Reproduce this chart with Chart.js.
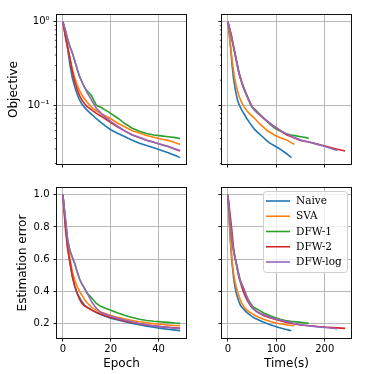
<!DOCTYPE html>
<html>
<head>
<meta charset="utf-8">
<script src="https://cdn.jsdelivr.net/npm/chart.js@4.4.1/dist/chart.umd.min.js"></script>
<style>
  html, body { margin: 0; padding: 0; background: #fff; }
  #fig { position: relative; width: 374px; height: 374px; }
  #fig canvas { position: absolute; }
</style>
</head>
<body>
<div id="fig">
  <canvas id="objEpoch" width="190" height="176" style="left:0;top:0;width:190px;height:176px"></canvas>
  <canvas id="objTime" width="184" height="176" style="left:190px;top:0;width:184px;height:176px"></canvas>
  <canvas id="errEpoch" width="190" height="198" style="left:0;top:176px;width:190px;height:198px"></canvas>
  <canvas id="errTime" width="184" height="198" style="left:190px;top:176px;width:184px;height:198px"></canvas>
</div>
<script>
// methods
const labels = ["Naive", "SVA", "DFW-1", "DFW-2", "DFW-log"];
const colors = ["#1f77b4", "#ff7f0e", "#2ca02c", "#d62728", "#9467bd"];

const epochs = [0, 1, 2, 3, 4, 5, 6, 7, 8, 9, 10, 12, 14, 16, 18, 20, 23, 26, 29, 32, 35, 38, 41, 44, 47, 49];

// objective per epoch
const naiveObj = [1.0, 0.70, 0.47, 0.30, 0.21, 0.165, 0.135, 0.115, 0.103, 0.095, 0.088, 0.078, 0.069, 0.062, 0.056, 0.051, 0.046, 0.042, 0.038, 0.035, 0.033, 0.031, 0.029, 0.027, 0.025, 0.0236];
const svaObj = [1.0, 0.72, 0.50, 0.36, 0.27, 0.21, 0.175, 0.15, 0.132, 0.12, 0.11, 0.095, 0.086, 0.079, 0.074, 0.069, 0.061, 0.055, 0.0495, 0.0465, 0.0435, 0.0415, 0.0395, 0.038, 0.0355, 0.034];
const dfw1Obj = [1.0, 0.80, 0.62, 0.50, 0.42, 0.34, 0.27, 0.22, 0.19, 0.165, 0.15, 0.13, 0.10, 0.094, 0.087, 0.080, 0.070, 0.060, 0.053, 0.049, 0.046, 0.044, 0.043, 0.042, 0.041, 0.040];
const dfw2Obj = [1.0, 0.68, 0.50, 0.36, 0.25, 0.19, 0.155, 0.13, 0.115, 0.105, 0.097, 0.088, 0.080, 0.074, 0.068, 0.062, 0.055, 0.049, 0.044, 0.041, 0.038, 0.036, 0.034, 0.032, 0.0297, 0.0284];
const dfwLogObj = [1.0, 0.80, 0.62, 0.50, 0.42, 0.34, 0.27, 0.22, 0.19, 0.165, 0.145, 0.115, 0.092, 0.080, 0.071, 0.064, 0.056, 0.049, 0.044, 0.041, 0.038, 0.036, 0.034, 0.032, 0.030, 0.0288];

// estimation error per epoch
const naiveErr = [1.0, 0.83, 0.68, 0.57, 0.49, 0.43, 0.39, 0.36, 0.335, 0.315, 0.303, 0.285, 0.268, 0.255, 0.243, 0.233, 0.222, 0.211, 0.201, 0.192, 0.184, 0.177, 0.170, 0.164, 0.159, 0.155];
const svaErr = [1.0, 0.84, 0.70, 0.60, 0.52, 0.47, 0.43, 0.40, 0.375, 0.35, 0.33, 0.30, 0.283, 0.27, 0.26, 0.25, 0.238, 0.228, 0.219, 0.211, 0.205, 0.199, 0.195, 0.191, 0.188, 0.186];
const dfw1Err = [1.0, 0.86, 0.72, 0.65, 0.61, 0.57, 0.52, 0.475, 0.445, 0.42, 0.39, 0.36, 0.325, 0.305, 0.293, 0.283, 0.265, 0.25, 0.237, 0.226, 0.219, 0.214, 0.21, 0.207, 0.203, 0.201];
const dfw2Err = [1.0, 0.80, 0.66, 0.58, 0.49, 0.43, 0.385, 0.35, 0.325, 0.31, 0.30, 0.283, 0.27, 0.258, 0.247, 0.238, 0.226, 0.215, 0.206, 0.198, 0.191, 0.186, 0.181, 0.177, 0.173, 0.170];
const dfwLogErr = [1.0, 0.86, 0.72, 0.65, 0.61, 0.57, 0.52, 0.475, 0.445, 0.42, 0.395, 0.335, 0.295, 0.268, 0.256, 0.245, 0.232, 0.22, 0.21, 0.2, 0.192, 0.185, 0.179, 0.175, 0.171, 0.168];

// wall-clock time (s) at each epoch
const naiveTime = [0, 3.0, 5.9, 8.8, 11.6, 14.5, 17.3, 20.1, 22.9, 25.7, 28.4, 33.9, 39.4, 44.8, 50.2, 55.6, 63.6, 71.6, 79.5, 87.4, 95.3, 103.1, 110.9, 118.6, 126.3, 131];
const svaTime = [0, 2.9, 5.7, 8.5, 11.3, 14.1, 16.9, 19.7, 22.5, 25.3, 28.0, 33.6, 39.2, 44.8, 50.4, 56.0, 64.4, 72.8, 81.1, 89.5, 97.9, 106.3, 114.7, 123.1, 131.5, 137];
const dfw1Time = [0, 4, 8, 11.5, 14.5, 18, 21.5, 25, 28.5, 32, 35, 40, 47, 52, 58, 64, 74, 86, 97, 108, 119, 130, 141, 151, 161, 167];
const dfw2Time = [0, 7.5, 12, 16.8, 22.5, 28.5, 33.5, 39, 43.5, 47, 49.5, 55, 62, 69, 76, 85, 97, 110, 122, 135, 150, 169, 186, 204, 226, 242];
const dfwLogTime = [0, 4, 8.5, 12, 14.8, 17.5, 21, 24.5, 28.5, 32.5, 36, 43, 51.5, 62, 73, 82, 95, 111, 126, 137, 152, 169, 186, 201, 216, 226];

// axis ticks
const objMajor = [0.1, 1];
const objMinor = [0.02, 0.03, 0.04, 0.05, 0.06, 0.07, 0.08, 0.09, 0.2, 0.3, 0.4, 0.5, 0.6, 0.7, 0.8, 0.9];
const errTicks = [0.2, 0.4, 0.6, 0.8, 1.0];
const epochTicks = [0, 20, 40];
const timeTicks = [0, 100, 200];

Chart.defaults.font.family = "'DejaVu Sans', sans-serif";
Chart.defaults.color = "#000";
Chart.defaults.animation = false;

const supers = { "0": "\u2070", "1": "\u00b9", "-": "\u207b" };
function powLabel(v) {
    const e = String(Math.round(Math.log10(v)));
    return "10" + e.split("").map(ch => supers[ch]).join("");
}

function makeSets(xs, ys) {
    return ys.map((y, i) => ({
        label: labels[i],
        data: y.map((v, j) => ({ x: xs[i][j], y: v })),
        borderColor: colors[i],
        backgroundColor: colors[i],
        borderWidth: 1.6,
        pointRadius: 0,
        tension: 0,
        fill: false,
        order: ys.length - i,
    }));
}

function xAxis(min, max, ticks, title, h) {
    return {
        type: "linear",
        min: min,
        max: max,
        afterBuildTicks: s => { s.ticks = ticks.map(v => ({ value: v })); },
        afterFit: s => { s.height = h; },
        border: { display: false },
        grid: { color: "#b0b0b0", lineWidth: 0.9, tickColor: "#000", tickLength: 3.5 },
        ticks: { display: !!title, font: { size: 10 }, padding: 2, maxRotation: 0, autoSkip: false },
        title: { display: !!title, text: title, font: { size: 12 }, padding: { top: 0, bottom: 3 } },
    };
}

function yAxis(kind, min, max, ticks, title, w, pad) {
    return {
        type: kind,
        min: min,
        max: max,
        afterBuildTicks: s => { s.ticks = ticks.map(v => ({ value: v })); },
        afterFit: s => { s.width = w; },
        border: { display: false },
        grid: { color: "#b0b0b0", lineWidth: 0.9, tickColor: "#000", tickLength: 3.5 },
        ticks: {
            display: !!title,
            font: { size: 10 },
            padding: 4,
            autoSkip: false,
            callback: v => (kind === "logarithmic" ? powLabel(v) : v.toFixed(1)),
        },
        title: { display: !!title, text: title, font: { size: 12 }, padding: { top: pad, bottom: 0 } },
    };
}

const frame = {
    id: "frame",
    afterDatasetsDraw(chart) {
        const a = chart.chartArea;
        const c = chart.ctx;
        c.save();
        c.strokeStyle = "#111";
        c.lineWidth = 1;
        c.strokeRect(Math.round(a.left) - 0.5, Math.round(a.top) - 0.5,
            Math.round(a.right - a.left) + 1, Math.round(a.bottom - a.top) + 1);
        c.restore();
    },
};

const minorTicks = {
    id: "minorTicks",
    afterDraw(chart) {
        const y = chart.scales.y;
        if (y.type !== "logarithmic") return;
        const c = chart.ctx;
        c.save();
        c.strokeStyle = "#000";
        c.lineWidth = 0.7;
        objMinor.forEach(v => {
            const p = y.getPixelForValue(v);
            c.beginPath();
            c.moveTo(y.right - 2.2, p);
            c.lineTo(y.right, p);
            c.stroke();
        });
        c.restore();
    },
};

const legendBox = {
    id: "legendBox",
    afterDraw(chart, args, opts) {
        if (!opts.show) return;
        const a = chart.chartArea;
        const c = chart.ctx;
        const w = 84, h = 81;
        const x0 = a.right - 4 - w, y0 = a.top + 3;
        c.save();
        c.beginPath();
        c.roundRect(x0 + 0.5, y0 + 0.5, w, h, 3);
        c.fillStyle = "rgba(255,255,255,0.8)";
        c.fill();
        c.strokeStyle = "#d0d0d0";
        c.lineWidth = 1;
        c.stroke();
        c.font = "10.5px 'DejaVu Serif', serif";
        c.textBaseline = "middle";
        c.textAlign = "left";
        chart.data.datasets.forEach((ds, i) => {
            const yy = y0 + 10 + i * 15.25;
            c.strokeStyle = ds.borderColor;
            c.lineWidth = 1.6;
            c.beginPath();
            c.moveTo(x0 + 3, yy);
            c.lineTo(x0 + 27, yy);
            c.stroke();
            c.fillStyle = "#000";
            c.fillText(ds.label, x0 + 33, yy + 0.5);
        });
        c.restore();
    },
};

function build(id, sets, scales, pad, legend) {
    new Chart(document.getElementById(id), {
        type: "line",
        data: { datasets: sets },
        options: {
            responsive: false,
            layout: { padding: pad },
            plugins: {
                legend: { display: false },
                tooltip: { enabled: false },
                legendBox: { show: legend },
            },
            scales: scales,
        },
        plugins: [frame, minorTicks, legendBox],
    });
}

const epochX = [epochs, epochs, epochs, epochs, epochs];
const timeX = [naiveTime, svaTime, dfw1Time, dfw2Time, dfwLogTime];
const objY = [naiveObj, svaObj, dfw1Obj, dfw2Obj, dfwLogObj];
const errY = [naiveErr, svaErr, dfw1Err, dfw2Err, dfwLogErr];

const objMin = 0.0198, objMax = 1.206;
const errMin = 0.11, errMax = 1.042;

build("objEpoch", makeSets(epochX, objY), {
    x: xAxis(-2.45, 51.45, epochTicks, "", 12),
    y: yAxis("logarithmic", objMin, objMax, objMajor, "Objective", 57, 7),
}, { top: 15, right: 4, left: 0, bottom: 0 }, false);

build("objTime", makeSets(timeX, objY), {
    x: xAxis(-12.1, 254.1, timeTicks, "", 12),
    y: yAxis("logarithmic", objMin, objMax, objMajor, "", 32, 0),
}, { top: 15, right: 23, left: 0, bottom: 0 }, false);

build("errEpoch", makeSets(epochX, errY), {
    x: xAxis(-2.45, 51.45, epochTicks, "Epoch", 36),
    y: yAxis("linear", errMin, errMax, errTicks, "Estimation error", 57, 15.5),
}, { top: 12, right: 4, left: 0, bottom: 0 }, false);

build("errTime", makeSets(timeX, errY), {
    x: xAxis(-12.1, 254.1, timeTicks, "Time(s)", 36),
    y: yAxis("linear", errMin, errMax, errTicks, "", 32, 0),
}, { top: 12, right: 23, left: 0, bottom: 0 }, true);
</script>
</body>
</html>
